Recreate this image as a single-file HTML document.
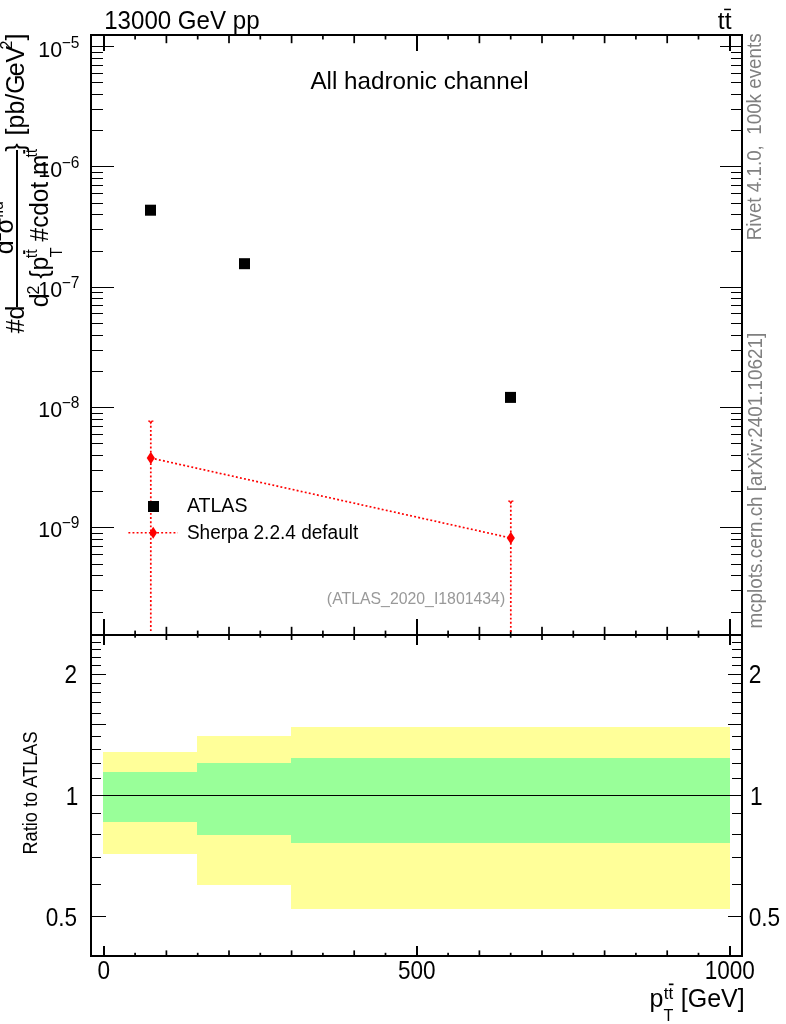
<!DOCTYPE html>
<html><head><meta charset="utf-8"><title>plot</title>
<style>
html,body{margin:0;padding:0;background:#fff;overflow:hidden;}
svg{display:block;will-change:transform;}
text{font-family:"Liberation Sans",sans-serif;}
</style></head>
<body>
<svg width="786" height="1024" viewBox="0 0 786 1024">
<rect width="786" height="1024" fill="#fff"/>
<g shape-rendering="crispEdges">
<rect x="103" y="751.9" width="94" height="101.7" fill="#ffff99"/>
<rect x="197" y="735.7" width="94" height="149.6" fill="#ffff99"/>
<rect x="291" y="726.9" width="439" height="181.6" fill="#ffff99"/>
<rect x="103" y="772.1" width="94" height="49.7" fill="#99ff99"/>
<rect x="197" y="763.2" width="94" height="71.5" fill="#99ff99"/>
<rect x="291" y="758" width="439" height="84.6" fill="#99ff99"/>
<rect x="92" y="795" width="649" height="1" fill="#000"/>
<rect x="90" y="34" width="653" height="2" fill="#000"/>
<rect x="90" y="634" width="653" height="2" fill="#000"/>
<rect x="90" y="955" width="653" height="2" fill="#000"/>
<rect x="90" y="34" width="2" height="923" fill="#000"/>
<rect x="741" y="34" width="2" height="923" fill="#000"/>
<rect x="103" y="36" width="2" height="15" fill="#000"/>
<rect x="103" y="619" width="2" height="26" fill="#000"/>
<rect x="103" y="946" width="2" height="9" fill="#000"/>
<rect x="416" y="36" width="2" height="15" fill="#000"/>
<rect x="416" y="619" width="2" height="26" fill="#000"/>
<rect x="416" y="946" width="2" height="9" fill="#000"/>
<rect x="729" y="36" width="2" height="15" fill="#000"/>
<rect x="729" y="619" width="2" height="26" fill="#000"/>
<rect x="729" y="946" width="2" height="9" fill="#000"/>
<rect x="92" y="612" width="11" height="1" fill="#000"/>
<rect x="731" y="612" width="10" height="1" fill="#000"/>
<rect x="92" y="590" width="11" height="1" fill="#000"/>
<rect x="731" y="590" width="10" height="1" fill="#000"/>
<rect x="92" y="575" width="11" height="1" fill="#000"/>
<rect x="731" y="575" width="10" height="1" fill="#000"/>
<rect x="92" y="564" width="11" height="1" fill="#000"/>
<rect x="731" y="564" width="10" height="1" fill="#000"/>
<rect x="92" y="554" width="11" height="1" fill="#000"/>
<rect x="731" y="554" width="10" height="1" fill="#000"/>
<rect x="92" y="546" width="11" height="1" fill="#000"/>
<rect x="731" y="546" width="10" height="1" fill="#000"/>
<rect x="92" y="539" width="11" height="1" fill="#000"/>
<rect x="731" y="539" width="10" height="1" fill="#000"/>
<rect x="92" y="533" width="11" height="1" fill="#000"/>
<rect x="731" y="533" width="10" height="1" fill="#000"/>
<rect x="92" y="527" width="22" height="1" fill="#000"/>
<rect x="720" y="527" width="21" height="1" fill="#000"/>
<rect x="92" y="491" width="11" height="1" fill="#000"/>
<rect x="731" y="491" width="10" height="1" fill="#000"/>
<rect x="92" y="470" width="11" height="1" fill="#000"/>
<rect x="731" y="470" width="10" height="1" fill="#000"/>
<rect x="92" y="455" width="11" height="1" fill="#000"/>
<rect x="731" y="455" width="10" height="1" fill="#000"/>
<rect x="92" y="443" width="11" height="1" fill="#000"/>
<rect x="731" y="443" width="10" height="1" fill="#000"/>
<rect x="92" y="434" width="11" height="1" fill="#000"/>
<rect x="731" y="434" width="10" height="1" fill="#000"/>
<rect x="92" y="426" width="11" height="1" fill="#000"/>
<rect x="731" y="426" width="10" height="1" fill="#000"/>
<rect x="92" y="419" width="11" height="1" fill="#000"/>
<rect x="731" y="419" width="10" height="1" fill="#000"/>
<rect x="92" y="413" width="11" height="1" fill="#000"/>
<rect x="731" y="413" width="10" height="1" fill="#000"/>
<rect x="92" y="407" width="22" height="1" fill="#000"/>
<rect x="720" y="407" width="21" height="1" fill="#000"/>
<rect x="92" y="371" width="11" height="1" fill="#000"/>
<rect x="731" y="371" width="10" height="1" fill="#000"/>
<rect x="92" y="350" width="11" height="1" fill="#000"/>
<rect x="731" y="350" width="10" height="1" fill="#000"/>
<rect x="92" y="335" width="11" height="1" fill="#000"/>
<rect x="731" y="335" width="10" height="1" fill="#000"/>
<rect x="92" y="323" width="11" height="1" fill="#000"/>
<rect x="731" y="323" width="10" height="1" fill="#000"/>
<rect x="92" y="313" width="11" height="1" fill="#000"/>
<rect x="731" y="313" width="10" height="1" fill="#000"/>
<rect x="92" y="305" width="11" height="1" fill="#000"/>
<rect x="731" y="305" width="10" height="1" fill="#000"/>
<rect x="92" y="298" width="11" height="1" fill="#000"/>
<rect x="731" y="298" width="10" height="1" fill="#000"/>
<rect x="92" y="292" width="11" height="1" fill="#000"/>
<rect x="731" y="292" width="10" height="1" fill="#000"/>
<rect x="92" y="287" width="22" height="1" fill="#000"/>
<rect x="720" y="287" width="21" height="1" fill="#000"/>
<rect x="92" y="251" width="11" height="1" fill="#000"/>
<rect x="731" y="251" width="10" height="1" fill="#000"/>
<rect x="92" y="229" width="11" height="1" fill="#000"/>
<rect x="731" y="229" width="10" height="1" fill="#000"/>
<rect x="92" y="214" width="11" height="1" fill="#000"/>
<rect x="731" y="214" width="10" height="1" fill="#000"/>
<rect x="92" y="203" width="11" height="1" fill="#000"/>
<rect x="731" y="203" width="10" height="1" fill="#000"/>
<rect x="92" y="193" width="11" height="1" fill="#000"/>
<rect x="731" y="193" width="10" height="1" fill="#000"/>
<rect x="92" y="185" width="11" height="1" fill="#000"/>
<rect x="731" y="185" width="10" height="1" fill="#000"/>
<rect x="92" y="178" width="11" height="1" fill="#000"/>
<rect x="731" y="178" width="10" height="1" fill="#000"/>
<rect x="92" y="172" width="11" height="1" fill="#000"/>
<rect x="731" y="172" width="10" height="1" fill="#000"/>
<rect x="92" y="166" width="22" height="1" fill="#000"/>
<rect x="720" y="166" width="21" height="1" fill="#000"/>
<rect x="92" y="130" width="11" height="1" fill="#000"/>
<rect x="731" y="130" width="10" height="1" fill="#000"/>
<rect x="92" y="109" width="11" height="1" fill="#000"/>
<rect x="731" y="109" width="10" height="1" fill="#000"/>
<rect x="92" y="94" width="11" height="1" fill="#000"/>
<rect x="731" y="94" width="10" height="1" fill="#000"/>
<rect x="92" y="82" width="11" height="1" fill="#000"/>
<rect x="731" y="82" width="10" height="1" fill="#000"/>
<rect x="92" y="73" width="11" height="1" fill="#000"/>
<rect x="731" y="73" width="10" height="1" fill="#000"/>
<rect x="92" y="65" width="11" height="1" fill="#000"/>
<rect x="731" y="65" width="10" height="1" fill="#000"/>
<rect x="92" y="58" width="11" height="1" fill="#000"/>
<rect x="731" y="58" width="10" height="1" fill="#000"/>
<rect x="92" y="52" width="11" height="1" fill="#000"/>
<rect x="731" y="52" width="10" height="1" fill="#000"/>
<rect x="92" y="46" width="22" height="1" fill="#000"/>
<rect x="720" y="46" width="21" height="1" fill="#000"/>
<rect x="92" y="916" width="14" height="1" fill="#000"/>
<rect x="728" y="916" width="13" height="1" fill="#000"/>
<rect x="92" y="884" width="9" height="1" fill="#000"/>
<rect x="732" y="884" width="9" height="1" fill="#000"/>
<rect x="92" y="857" width="9" height="1" fill="#000"/>
<rect x="732" y="857" width="9" height="1" fill="#000"/>
<rect x="92" y="834" width="9" height="1" fill="#000"/>
<rect x="732" y="834" width="9" height="1" fill="#000"/>
<rect x="92" y="813" width="9" height="1" fill="#000"/>
<rect x="732" y="813" width="9" height="1" fill="#000"/>
<rect x="92" y="795" width="14" height="1" fill="#000"/>
<rect x="728" y="795" width="13" height="1" fill="#000"/>
<rect x="92" y="778" width="9" height="1" fill="#000"/>
<rect x="732" y="778" width="9" height="1" fill="#000"/>
<rect x="92" y="763" width="9" height="1" fill="#000"/>
<rect x="732" y="763" width="9" height="1" fill="#000"/>
<rect x="92" y="749" width="9" height="1" fill="#000"/>
<rect x="732" y="749" width="9" height="1" fill="#000"/>
<rect x="92" y="736" width="9" height="1" fill="#000"/>
<rect x="732" y="736" width="9" height="1" fill="#000"/>
<rect x="92" y="724" width="14" height="1" fill="#000"/>
<rect x="728" y="724" width="13" height="1" fill="#000"/>
<rect x="92" y="713" width="9" height="1" fill="#000"/>
<rect x="732" y="713" width="9" height="1" fill="#000"/>
<rect x="92" y="702" width="9" height="1" fill="#000"/>
<rect x="732" y="702" width="9" height="1" fill="#000"/>
<rect x="92" y="692" width="9" height="1" fill="#000"/>
<rect x="732" y="692" width="9" height="1" fill="#000"/>
<rect x="92" y="683" width="9" height="1" fill="#000"/>
<rect x="732" y="683" width="9" height="1" fill="#000"/>
<rect x="92" y="674" width="14" height="1" fill="#000"/>
<rect x="728" y="674" width="13" height="1" fill="#000"/>
<rect x="92" y="665" width="9" height="1" fill="#000"/>
<rect x="732" y="665" width="9" height="1" fill="#000"/>
<rect x="92" y="657" width="9" height="1" fill="#000"/>
<rect x="732" y="657" width="9" height="1" fill="#000"/>
<rect x="92" y="649" width="9" height="1" fill="#000"/>
<rect x="732" y="649" width="9" height="1" fill="#000"/>
<rect x="92" y="642" width="9" height="1" fill="#000"/>
<rect x="732" y="642" width="9" height="1" fill="#000"/>
</g>
<g fill="#000"><rect x="134.25" y="35" width="1.7" height="4.5"/><rect x="134.25" y="630.6" width="1.7" height="7.1"/><rect x="134.25" y="952.8" width="1.7" height="3"/><rect x="165.55" y="35" width="1.7" height="8.2"/><rect x="165.55" y="626.8" width="1.7" height="13.2"/><rect x="165.55" y="950.4" width="1.7" height="5"/><rect x="196.85" y="35" width="1.7" height="4.5"/><rect x="196.85" y="630.6" width="1.7" height="7.1"/><rect x="196.85" y="952.8" width="1.7" height="3"/><rect x="228.15" y="35" width="1.7" height="8.2"/><rect x="228.15" y="626.8" width="1.7" height="13.2"/><rect x="228.15" y="950.4" width="1.7" height="5"/><rect x="259.45" y="35" width="1.7" height="4.5"/><rect x="259.45" y="630.6" width="1.7" height="7.1"/><rect x="259.45" y="952.8" width="1.7" height="3"/><rect x="290.75" y="35" width="1.7" height="8.2"/><rect x="290.75" y="626.8" width="1.7" height="13.2"/><rect x="290.75" y="950.4" width="1.7" height="5"/><rect x="322.05" y="35" width="1.7" height="4.5"/><rect x="322.05" y="630.6" width="1.7" height="7.1"/><rect x="322.05" y="952.8" width="1.7" height="3"/><rect x="353.35" y="35" width="1.7" height="8.2"/><rect x="353.35" y="626.8" width="1.7" height="13.2"/><rect x="353.35" y="950.4" width="1.7" height="5"/><rect x="384.65" y="35" width="1.7" height="4.5"/><rect x="384.65" y="630.6" width="1.7" height="7.1"/><rect x="384.65" y="952.8" width="1.7" height="3"/><rect x="447.25" y="35" width="1.7" height="4.5"/><rect x="447.25" y="630.6" width="1.7" height="7.1"/><rect x="447.25" y="952.8" width="1.7" height="3"/><rect x="478.55" y="35" width="1.7" height="8.2"/><rect x="478.55" y="626.8" width="1.7" height="13.2"/><rect x="478.55" y="950.4" width="1.7" height="5"/><rect x="509.85" y="35" width="1.7" height="4.5"/><rect x="509.85" y="630.6" width="1.7" height="7.1"/><rect x="509.85" y="952.8" width="1.7" height="3"/><rect x="541.15" y="35" width="1.7" height="8.2"/><rect x="541.15" y="626.8" width="1.7" height="13.2"/><rect x="541.15" y="950.4" width="1.7" height="5"/><rect x="572.45" y="35" width="1.7" height="4.5"/><rect x="572.45" y="630.6" width="1.7" height="7.1"/><rect x="572.45" y="952.8" width="1.7" height="3"/><rect x="603.75" y="35" width="1.7" height="8.2"/><rect x="603.75" y="626.8" width="1.7" height="13.2"/><rect x="603.75" y="950.4" width="1.7" height="5"/><rect x="635.05" y="35" width="1.7" height="4.5"/><rect x="635.05" y="630.6" width="1.7" height="7.1"/><rect x="635.05" y="952.8" width="1.7" height="3"/><rect x="666.35" y="35" width="1.7" height="8.2"/><rect x="666.35" y="626.8" width="1.7" height="13.2"/><rect x="666.35" y="950.4" width="1.7" height="5"/><rect x="697.65" y="35" width="1.7" height="4.5"/><rect x="697.65" y="630.6" width="1.7" height="7.1"/><rect x="697.65" y="952.8" width="1.7" height="3"/></g>
<rect x="145.0" y="204.7" width="11" height="11" fill="#000"/>
<rect x="239.0" y="258.2" width="11" height="11" fill="#000"/>
<rect x="505.0" y="391.9" width="11" height="11" fill="#000"/>
<g stroke="#ff0000" stroke-width="1.7" fill="none" stroke-dasharray="1.9 2.25">
<line x1="150.8" y1="458.0" x2="510.8" y2="538.0"/>
<line x1="150.8" y1="425.8" x2="150.8" y2="632.3"/>
<line x1="510.8" y1="505.6" x2="510.8" y2="632.3"/>
</g>
<path d="M148.20000000000002,421.20000000000005 L149.60000000000002,421.20000000000005 L150.8,423.20000000000005 L152.0,421.20000000000005 L153.4,421.20000000000005" stroke="#ff0000" stroke-width="1.3" fill="none"/>
<path d="M508.2,501.20000000000005 L509.6,501.20000000000005 L510.8,503.20000000000005 L512.0,501.20000000000005 L513.4,501.20000000000005" stroke="#ff0000" stroke-width="1.3" fill="none"/>
<polygon points="150.8,451.7 154.9,458.0 150.8,464.3 146.70000000000002,458.0" fill="#ff0000"/>
<polygon points="510.8,531.7 514.9,538.0 510.8,544.3 506.7,538.0" fill="#ff0000"/>
<rect x="148" y="501" width="11" height="11" fill="#000"/>
<line x1="128.4" y1="532.7" x2="177.8" y2="532.7" stroke="#ff0000" stroke-width="1.4" stroke-dasharray="1.9 2.2"/>
<polygon points="153.2,526.7 157.1,532.7 153.2,538.7 149.29999999999998,532.7" fill="#ff0000"/>
<text transform="translate(104.2 28.8) scale(0.96 1)" font-size="25.1">13000 GeV pp</text>
<text transform="translate(419.5 88.5) scale(0.985 1)" font-size="24.6" text-anchor="middle">All hadronic channel</text>
<text transform="translate(717.8 29.4)" font-size="24.6">tt</text>
<rect x="724.1" y="8.7" width="6.8" height="1.5" fill="#000"/>
<text transform="translate(186.9 512) scale(0.99 1)" font-size="19.8">ATLAS</text>
<text transform="translate(186.9 538.5) scale(0.962 1)" font-size="19.8">Sherpa 2.2.4 default</text>
<text transform="translate(505.2 604) scale(0.99 1)" font-size="16" text-anchor="end" fill="#999">(ATLAS_2020_I1801434)</text>
<text transform="translate(760.8 240.2) rotate(-90) scale(0.94 1)" font-size="20" fill="#808080">Rivet 4.1.0,&#160;&#160;100k events</text>
<text transform="translate(762.4 628.6) rotate(-90) scale(0.945 1)" font-size="20" fill="#808080">mcplots.cern.ch [arXiv:2401.10621]</text>
<text transform="translate(36.8 854.6) rotate(-90) scale(0.94 1)" font-size="19.4">Ratio to ATLAS</text>
<text transform="translate(103.8 978.5) scale(0.885 1)" font-size="25.5" text-anchor="middle">0</text>
<text transform="translate(416.8 978.5) scale(0.885 1)" font-size="25.5" text-anchor="middle">500</text>
<text transform="translate(729.8 978.5) scale(0.885 1)" font-size="25.5" text-anchor="middle">1000</text>
<text transform="translate(77 683.3) scale(0.895 1)" font-size="25.2" text-anchor="end">2</text>
<text transform="translate(748.7 683.3) scale(0.9 1)" font-size="25.2">2</text>
<text transform="translate(78.3 804.6) scale(0.895 1)" font-size="25.2" text-anchor="end">1</text>
<text transform="translate(750 804.6) scale(0.9 1)" font-size="25.2">1</text>
<text transform="translate(77 925.9) scale(0.895 1)" font-size="25.2" text-anchor="end">0.5</text>
<text transform="translate(748.7 925.9) scale(0.9 1)" font-size="25.2">0.5</text>
<text transform="translate(38.3 537) scale(0.94 1)" font-size="22.8">10</text>
<text transform="translate(61.7 527.6) scale(0.97 1)" font-size="16">−9</text>
<text transform="translate(38.3 417) scale(0.94 1)" font-size="22.8">10</text>
<text transform="translate(61.7 407.6) scale(0.97 1)" font-size="16">−8</text>
<text transform="translate(38.3 297) scale(0.94 1)" font-size="22.8">10</text>
<text transform="translate(61.7 287.6) scale(0.97 1)" font-size="16">−7</text>
<text transform="translate(38.3 177) scale(0.94 1)" font-size="22.8">10</text>
<text transform="translate(61.7 167.6) scale(0.97 1)" font-size="16">−6</text>
<text transform="translate(38.3 57) scale(0.94 1)" font-size="22.8">10</text>
<text transform="translate(61.7 47.6) scale(0.97 1)" font-size="16">−5</text>
<text transform="translate(649.6 1007.3)" font-size="25">p</text>
<text transform="translate(663.6 1020.6) scale(0.95 1)" font-size="17">T</text>
<text transform="translate(663.8 998.9)" font-size="17">tt</text>
<rect x="668.9" y="983.5" width="4.6" height="1.7" fill="#000"/>
<text transform="translate(744.7 1007.3)" font-size="25" text-anchor="end">[GeV]</text>
<text transform="translate(24 333.3) rotate(-90)" font-size="25">#d</text>
<rect x="16" y="149.7" width="2" height="156.8" fill="#000" shape-rendering="crispEdges"/>
<text transform="translate(24 151.8) rotate(-90)" font-size="25">}</text>
<text transform="translate(24 135.4) rotate(-90)" font-size="25">[pb/G</text>
<text transform="translate(24 76.3) rotate(-90)" font-size="25">eV</text>
<text transform="translate(12.3 49.4) rotate(-90)" font-size="16">2</text>
<text transform="translate(24 40.6) rotate(-90)" font-size="25">]</text>
<text transform="translate(13.3 254.2) rotate(-90)" font-size="25">d</text>
<text transform="translate(1 241.2) rotate(-90)" font-size="16">2</text>
<text transform="translate(13.3 233.5) rotate(-90)" font-size="25">σ</text>
<text transform="translate(3.2 218) rotate(-90)" font-size="16">fid</text>
<text transform="translate(48.2 307.2) rotate(-90)" font-size="25">d</text>
<text transform="translate(38.5 294.5) rotate(-90)" font-size="16">2</text>
<text transform="translate(48.2 278.8) rotate(-90)" font-size="25">{p</text>
<text transform="translate(62 257.3) rotate(-90)" font-size="16">T</text>
<text transform="translate(37 258.2) rotate(-90)" font-size="16">tt</text>
<rect x="23.2" y="250.4" width="2" height="3.6" fill="#000"/>
<text transform="translate(48.2 241.4) rotate(-90) scale(0.975 1)" font-size="25">#cdot m</text>
<text transform="translate(37 157.6) rotate(-90)" font-size="16">tt</text>
<rect x="23.2" y="150" width="2" height="3.6" fill="#000"/>
</svg>
</body></html>
